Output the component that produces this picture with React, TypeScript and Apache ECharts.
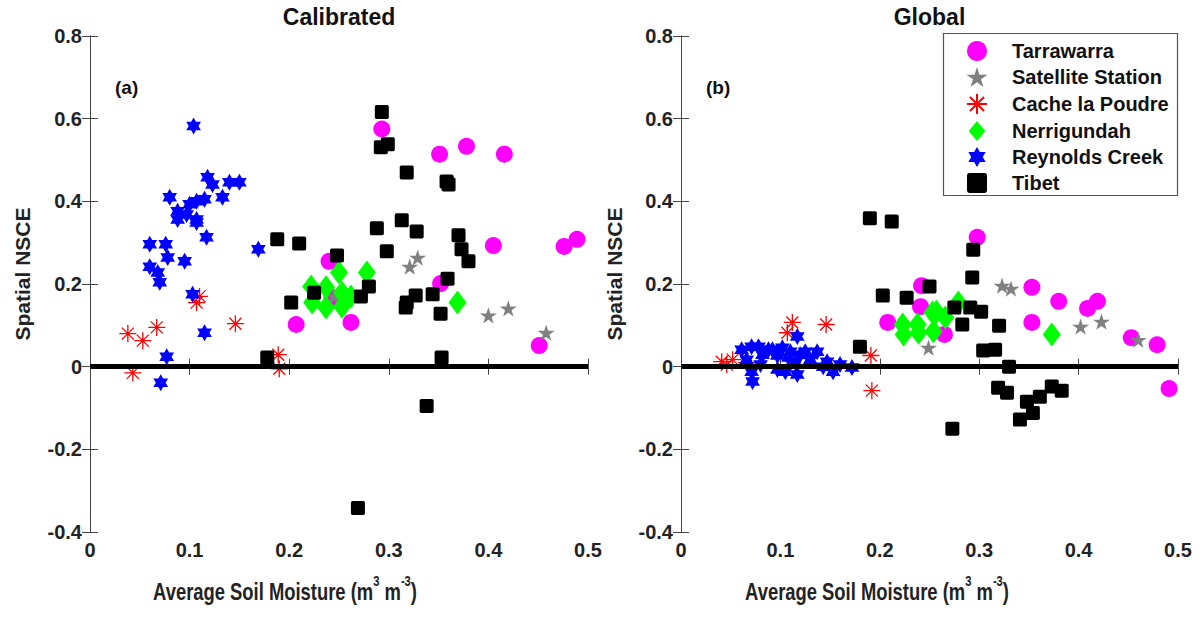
import React, { useEffect, useRef } from "react";
import * as echarts from "echarts";

const panelTitles = ["Calibrated", "Global"];
const panelTags = ["(a)", "(b)"];
const xAxisTitle = ["Average Soil Moisture (m", "3", " m", "-3", ")"];
const yAxisTitle = "Spatial NSCE";
const siteNames = ["Tarrawarra", "Satellite Station", "Cache la Poudre", "Nerrigundah", "Reynolds Creek", "Tibet"];
const xTicks = { min: 0, max: 0.5, interval: 0.1 };
const yTicks = { min: -0.4, max: 0.8, interval: 0.2 };

// (a) Calibrated
const calTarrawarra = [[0.293,0.575],[0.240,0.255],[0.207,0.102],[0.262,0.107],[0.243,0.167],[0.351,0.514],[0.378,0.533],[0.416,0.514],[0.405,0.293],[0.476,0.291],[0.489,0.308],[0.352,0.201],[0.451,0.051]];
const calSatellite = [[0.329,0.264],[0.321,0.242],[0.400,0.124],[0.420,0.141],[0.458,0.082],[0.245,0.170]];
const calCache = [[0.038,0.080],[0.053,0.063],[0.067,0.095],[0.146,0.104],[0.110,0.170],[0.107,0.155],[0.043,-0.015],[0.189,0.029],[0.190,-0.005]];
const calNerrigundah = [[0.222,0.194],[0.223,0.155],[0.237,0.192],[0.237,0.143],[0.250,0.228],[0.253,0.179],[0.253,0.145],[0.262,0.170],[0.278,0.228],[0.369,0.155]];
const calReynolds = [[0.104,0.582],[0.118,0.458],[0.123,0.441],[0.140,0.446],[0.150,0.446],[0.133,0.410],[0.080,0.410],[0.088,0.376],[0.100,0.393],[0.107,0.400],[0.115,0.405],[0.107,0.356],[0.097,0.368],[0.060,0.296],[0.076,0.296],[0.078,0.264],[0.095,0.255],[0.060,0.242],[0.068,0.228],[0.070,0.204],[0.117,0.313],[0.169,0.284],[0.103,0.175],[0.115,0.082],[0.077,0.024],[0.071,-0.039],[0.107,0.349],[0.088,0.356]];
const calTibet = [[0.293,0.616],[0.292,0.531],[0.299,0.538],[0.188,0.308],[0.210,0.298],[0.248,0.269],[0.225,0.179],[0.202,0.155],[0.280,0.194],[0.272,0.170],[0.288,0.335],[0.298,0.279],[0.178,0.022],[0.318,0.470],[0.358,0.448],[0.360,0.441],[0.313,0.354],[0.328,0.327],[0.370,0.318],[0.373,0.284],[0.380,0.255],[0.359,0.213],[0.318,0.155],[0.317,0.143],[0.327,0.172],[0.344,0.175],[0.352,0.128],[0.353,0.022],[0.338,-0.095],[0.269,-0.342]];

// (b) Global
const gloTarrawarra = [[0.298,0.313],[0.242,0.196],[0.241,0.145],[0.208,0.107],[0.265,0.078],[0.353,0.192],[0.380,0.158],[0.409,0.141],[0.419,0.158],[0.353,0.107],[0.453,0.070],[0.479,0.053],[0.491,-0.053]];
const gloSatellite = [[0.323,0.196],[0.332,0.189],[0.402,0.097],[0.423,0.109],[0.460,0.065],[0.249,0.046]];
const gloCache = [[0.041,0.012],[0.046,0.005],[0.052,0.017],[0.066,0.010],[0.146,0.102],[0.112,0.107],[0.107,0.082],[0.191,0.027],[0.192,-0.058]];
const gloNerrigundah = [[0.223,0.102],[0.224,0.078],[0.238,0.102],[0.239,0.082],[0.253,0.131],[0.257,0.133],[0.254,0.085],[0.266,0.119],[0.279,0.155],[0.373,0.078]];
const gloReynolds = [[0.061,0.041],[0.066,0.017],[0.071,0.048],[0.071,-0.012],[0.072,-0.036],[0.078,0.048],[0.082,0.029],[0.088,0.041],[0.092,0.041],[0.097,0.027],[0.097,-0.007],[0.102,0.046],[0.105,-0.012],[0.108,0.022],[0.110,0.036],[0.117,0.073],[0.117,-0.019],[0.120,0.029],[0.125,0.036],[0.130,0.017],[0.137,0.036],[0.143,0.000],[0.147,0.012],[0.153,-0.012],[0.160,0.005],[0.172,-0.002],[0.080,0.005],[0.115,0.010]];
const gloTibet = [[0.190,0.359],[0.212,0.351],[0.294,0.283],[0.293,0.216],[0.203,0.172],[0.227,0.167],[0.250,0.194],[0.275,0.143],[0.291,0.143],[0.302,0.133],[0.283,0.102],[0.320,0.099],[0.304,0.039],[0.316,0.041],[0.180,0.048],[0.330,0.000],[0.319,-0.051],[0.328,-0.063],[0.348,-0.085],[0.341,-0.128],[0.354,-0.112],[0.361,-0.073],[0.373,-0.048],[0.383,-0.058],[0.273,-0.150]];

const panelData = [
  [calTarrawarra, calSatellite, calCache, calNerrigundah, calReynolds, calTibet],
  [gloTarrawarra, gloSatellite, gloCache, gloNerrigundah, gloReynolds, gloTibet],
];

const STAR5 = "path://M0,-10L2.245,-3.09L9.511,-3.09L3.633,1.18L5.878,8.09L0,3.82L-5.878,8.09L-3.633,1.18L-9.511,-3.09L-2.245,-3.09Z";
const HEX = "path://M0,-10L2.887,-5L8.66,-5L5.77,0L8.66,5L2.887,5L0,10L-2.887,5L-8.66,5L-5.77,0L-8.66,-5L-2.887,-5Z";
const AST = "path://M0,-10L0,10M-10,0L10,0M-7.07,-7.07L7.07,7.07M-7.07,7.07L7.07,-7.07";
const DIAM = "path://M0,-12L10,0L0,12L-10,0Z";
const SQR = "path://M1.2,0L8.8,0Q10,0 10,1.2L10,8.8Q10,10 8.8,10L1.2,10Q0,10 0,8.8L0,1.2Q0,0 1.2,0Z";

const styles = [
  { symbol: "circle", icon: "circle", size: 17, keep: true, item: { color: "#ff00ff", opacity: 1 } },
  { symbol: STAR5, icon: STAR5, size: 17, keep: true, item: { color: "#808080", opacity: 1 } },
  { symbol: AST, icon: AST, size: 17, keep: true, item: { color: "#ff0000", borderColor: "#ff0000", borderWidth: 1.3, opacity: 1 } },
  { symbol: "diamond", icon: DIAM, size: [18, 24], keep: false, item: { color: "#00ff00", opacity: 1 } },
  { symbol: HEX, icon: HEX, size: 17, keep: true, item: { color: "#0000ff", opacity: 1 } },
  { symbol: SQR, icon: SQR, size: 14, keep: true, item: { color: "#000000", opacity: 1 } },
];

const FONT = "'Liberation Sans', Arial, sans-serif";
const grids = [
  { left: 90, top: 36, width: 498, height: 496 },
  { left: 681, top: 36, width: 497, height: 496 },
];

export default function App() {
  const ref = useRef<HTMLDivElement>(null);
  useEffect(() => {
    if (!ref.current) return;
    const chart = echarts.init(ref.current, null, { renderer: "svg" });
    const axisLine = { show: true, lineStyle: { color: "#444", width: 1 } };
    const tick = { show: true, inside: true, length: 8, lineStyle: { color: "#444" } };
    const lbl = { color: "#222", fontSize: 20, fontWeight: "bold", fontFamily: FONT };
    const xAxes: any[] = [];
    const yAxes: any[] = [];
    grids.forEach((g, gi) => {
      xAxes.push({
        type: "value", gridIndex: gi, position: "bottom", ...xTicks,
        axisLine, axisTick: tick, splitLine: { show: false },
        axisLabel: { ...lbl, margin: 8 },
      });
      xAxes.push({
        type: "value", gridIndex: gi, position: "top", ...xTicks,
        axisLine, axisTick: tick, splitLine: { show: false }, axisLabel: { show: false },
      });
      yAxes.push({
        type: "value", gridIndex: gi, position: "left", ...yTicks,
        axisLine, axisTick: tick, splitLine: { show: false },
        axisLabel: { ...lbl, margin: 8 },
      });
      yAxes.push({
        type: "value", gridIndex: gi, position: "right", ...yTicks,
        axisLine, axisTick: tick, splitLine: { show: false }, axisLabel: { show: false },
      });
    });

    const series: any[] = [];
    panelData.forEach((sets, p) => {
      sets.forEach((data, i) => {
        series.push({
          type: "scatter", name: siteNames[i], xAxisIndex: p * 2, yAxisIndex: p * 2,
          data, symbol: styles[i].symbol, symbolSize: styles[i].size,
          symbolKeepAspect: styles[i].keep, itemStyle: styles[i].item, z: 2,
        });
      });
      series.push({
        type: "scatter", name: "zero" + p, xAxisIndex: p * 2, yAxisIndex: p * 2, data: [], z: 3,
        markLine: {
          silent: true, symbol: ["none", "none"], label: { show: false },
          lineStyle: { color: "#000", width: 5, type: "solid" },
          data: [{ yAxis: 0 }],
        },
      });
    });

    const texts: any[] = [];
    const xNameCenters = [285, 877];
    const yNameX = [22, 614];
    grids.forEach((g, gi) => {
      texts.push({
        type: "text", x: g.left + g.width / 2, y: 17,
        style: { text: panelTitles[gi], fill: "#111", font: `bold 23px ${FONT}`, align: "center", verticalAlign: "middle" },
      });
      texts.push({
        type: "text", x: g.left + 25, y: 87,
        style: { text: panelTags[gi], fill: "#111", font: `bold 19px ${FONT}`, align: "left", verticalAlign: "middle" },
      });
      texts.push({
        type: "text", x: xNameCenters[gi], y: 589, scaleX: 0.8,
        style: {
          text: `{a|${xAxisTitle[0]}}{s|${xAxisTitle[1]}}{a|${xAxisTitle[2]}}{s|${xAxisTitle[3]}}{a|${xAxisTitle[4]}}`,
          align: "center", verticalAlign: "middle",
          rich: {
            a: { fontSize: 23, fontWeight: "bold", fontFamily: FONT, fill: "#222", color: "#222", verticalAlign: "bottom", lineHeight: 28 },
            s: { fontSize: 14, fontWeight: "bold", fontFamily: FONT, fill: "#222", color: "#222", verticalAlign: "top", lineHeight: 28 },
          },
        },
      });
      texts.push({
        type: "text", x: yNameX[gi], y: 274, rotation: Math.PI / 2,
        style: { text: yAxisTitle, fill: "#222", font: `bold 21px ${FONT}`, align: "center", verticalAlign: "middle" },
      });
    });
    texts.push({
      type: "rect", shape: { x: 943.5, y: 33.5, width: 234, height: 162 }, z: 3,
      style: { fill: "#fff", stroke: "#555", lineWidth: 1.2 },
    });

    chart.setOption({
      animation: false,
      backgroundColor: "#fff",
      grid: grids.map((g) => ({ ...g, containLabel: false })),
      xAxis: xAxes,
      yAxis: yAxes,
      legend: {
        orient: "vertical", left: 966, top: 41, padding: 0, itemGap: 6,
        itemWidth: 24, itemHeight: 20, z: 5,
        data: siteNames.map((n, i) => ({ name: n, icon: styles[i].icon })),
        textStyle: { fontSize: 20, fontWeight: "bold", fontFamily: FONT, color: "#111", lineHeight: 20, padding: [0, 0, 0, 18] },
      },
      graphic: texts,
      series,
    });
    return () => chart.dispose();
  }, []);
  return <div ref={ref} style={{ position: "fixed", left: 0, top: 0, width: 1201, height: 617, background: "#fff" }} />;
}
